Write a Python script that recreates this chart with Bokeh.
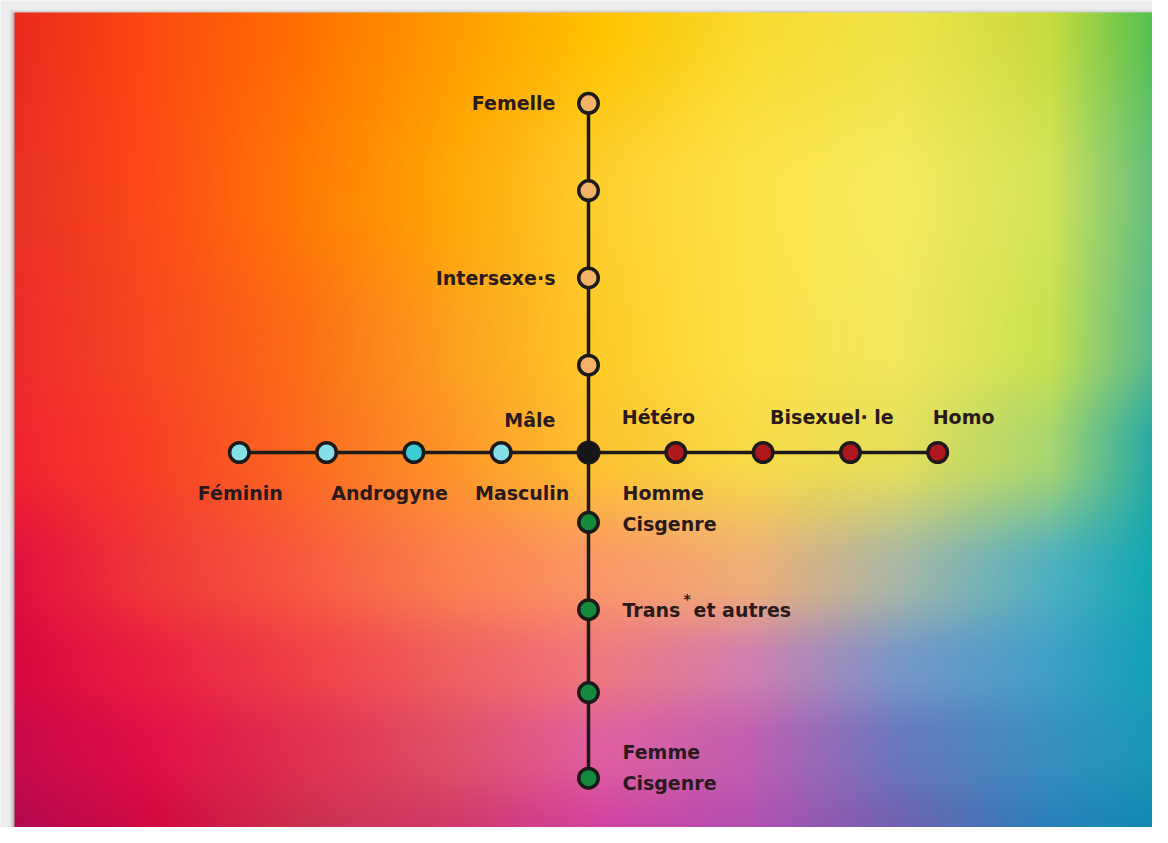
import numpy as np
from bokeh.plotting import figure
from bokeh.models import Range1d
from bokeh.core.properties import value
from bokeh.embed import file_html
from bokeh.resources import INLINE

# ---------------- data ----------------
# vertical axis, upwards (sexe)
sex_pos = [4, 3, 2, 1]
sex_labels = ["Femelle", "", "Intersexe·s", ""]
# horizontal axis, left (expression de genre)
expr_pos = [-4, -3, -2, -1]
expr_labels = ["Féminin", "Androgyne", "", "Masculin"]
# horizontal axis, right (orientation)
orient_pos = [1, 2, 3, 4]
orient_labels = ["Hétéro", "Bisexuel· le", "", "Homo"]
# vertical axis, downwards (identité de genre)
ident_pos = [-0.8, -1.8, -2.75, -3.73]
ident_labels = ["Homme\nCisgenre", "Trans* et autres", "", "Femme\nCisgenre"]
center_label = "Mâle"

# ---------------- style ----------------
U = 87.3                 # px per unit
CX, CY = 588, 452        # position of the centre node in the picture
W, H = 1152, 827
INK = "#2a1a1c"
LINE = "#1c1a1a"
FONT = value("DejaVu Sans")
FS = "19px"

def sx(px):
    return (px - CX) / U

def sy(py):
    return (CY - py) / U

p = figure(width=W, height=H, output_backend="svg", toolbar_location=None,
           x_range=Range1d(sx(0), sx(W)), y_range=Range1d(sy(H), sy(0)),
           min_border=0, outline_line_color=None,
           background_fill_color="#ededed", border_fill_color="#ededed")
p.axis.visible = False
p.grid.visible = False

# ---------------- background gradient ----------------
BG_X = np.array([14, 150, 300, 450, 600, 750, 900, 1050, 1156], dtype=float)
BG_Y = np.array([12, 195, 345, 450, 575, 665, 745, 843], dtype=float)
BG = [
    ["#e82a1e", "#fc4a10", "#ff7000", "#ff9c00", "#ffc400", "#f8dc30", "#f0e44a", "#c8dc40", "#50c050"],
    ["#e83025", "#fd4a18", "#ff7a05", "#ffa805", "#ffcf30", "#fde54a", "#f6eb60", "#d2e458", "#60be80"],
    ["#ea2c2c", "#f84820", "#fb6e15", "#fca020", "#ffcc28", "#fde448", "#f3e860", "#c8e250", "#55b890"],
    ["#f02530", "#f84025", "#fb6a20", "#fd9628", "#fec532", "#f8dc48", "#e6e05a", "#a8d670", "#20a8a8"],
    ["#e0103e", "#f03838", "#f75a40", "#fb8050", "#fb9868", "#f0b078", "#a8b8a8", "#50b0c0", "#10a8b0"],
    ["#d80840", "#e82040", "#f04048", "#f06060", "#f07880", "#d080b0", "#7898c8", "#40a0c8", "#10a0b8"],
    ["#c80848", "#e01048", "#e03050", "#e05068", "#e060a0", "#c060b0", "#6878c0", "#3890c0", "#1898b8"],
    ["#b00850", "#d00840", "#c83050", "#d03868", "#d040a0", "#b050b0", "#7060b0", "#2880b8", "#1088b0"],
]

def hex2rgb(h):
    h = h.lstrip("#")
    return [int(h[i:i + 2], 16) for i in (0, 2, 4)]

grid = np.array([[hex2rgb(c) for c in row] for row in BG], dtype=float)
x0, x1, y0, y1 = 14, W, 12, H
IW, IH = x1 - x0, y1 - y0
xs = np.arange(IW) + x0 + 0.5
ys = np.arange(IH) + y0 + 0.5
tmp = np.empty((len(BG_Y), IW, 3))
for i in range(len(BG_Y)):
    for c in range(3):
        tmp[i, :, c] = np.interp(xs, BG_X, grid[i, :, c])
idx = np.clip(np.searchsorted(BG_Y, ys) - 1, 0, len(BG_Y) - 2)
t = np.clip((ys - BG_Y[idx]) / (BG_Y[idx + 1] - BG_Y[idx]), 0, 1)
t = t * t * (3 - 2 * t)
img = tmp[idx] * (1 - t)[:, None, None] + tmp[idx + 1] * t[:, None, None]
rgba = np.empty((IH, IW), dtype=np.uint32)
view = rgba.view(dtype=np.uint8).reshape((IH, IW, 4))
view[:, :, :3] = np.clip(img, 0, 255).astype(np.uint8)
view[:, :, 3] = 255
rgba = rgba[::-1]

# soft shadow around the picture
for k, a in [(5, 0.04), (4, 0.06), (3, 0.08), (2, 0.12), (1, 0.18)]:
    p.rect(x=sx((x0 + x1) / 2), y=sy((y0 + y1) / 2 + 2), width=(IW + 2 * k) / U, height=(IH + 2 * k) / U,
           fill_color="#555555", fill_alpha=a, line_color=None)
p.image_rgba(image=[rgba], x=sx(x0), y=sy(y1), dw=IW / U, dh=IH / U)

# ---------------- lines ----------------
p.line(x=[0, 0], y=[max(sex_pos), min(ident_pos)], line_color=LINE, line_width=3.5)
p.line(x=[min(expr_pos), max(orient_pos)], y=[0, 0], line_color=LINE, line_width=3.5)

# ---------------- nodes ----------------
NODE = dict(size=19.5, line_color=LINE, line_width=3.5)
p.scatter(x=[0] * len(sex_pos), y=sex_pos, fill_color="#f4b266", **NODE)
p.scatter(x=expr_pos, y=[0] * len(expr_pos),
          fill_color=["#84dfe6", "#84dfe6", "#3ccbd4", "#84dfe6"], **NODE)
p.scatter(x=orient_pos, y=[0] * len(orient_pos), fill_color="#b0161e", **NODE)
p.scatter(x=[0] * len(ident_pos), y=ident_pos, fill_color="#138a3c", **NODE)
p.scatter(x=[0], y=[0], size=22, fill_color="#161616", line_color=LINE, line_width=2)

# ---------------- labels ----------------
def lab(x, y, text, dx, dy, align, size=FS):
    p.text(x=[x], y=[y], text=[text], x_offset=dx, y_offset=dy, text_align=align,
           text_baseline="middle", text_color=INK, text_font=FONT,
           text_font_style="bold", text_font_size=size)

# sexe (left of vertical axis)
for pos, s in zip(sex_pos, sex_labels):
    if s:
        lab(0, pos, s, -33, 0, "right")
lab(0, 0, center_label, -33, -33, "right")

# expression (below left axis)
expr_dx = [1, 63, 0, 21]
for pos, s, d in zip(expr_pos, expr_labels, expr_dx):
    if s:
        lab(pos, 0, s, d, 40, "center")

# orientation (above right axis)
orient_dx = [-54, 7, 0, -5]
for pos, s, d in zip(orient_pos, orient_labels, orient_dx):
    if s:
        lab(pos, 0, s, d, -36, "left")

# identité (right of lower axis)
for pos, s in zip(ident_pos, ident_labels):
    if not s:
        continue
    if "\n" in s:
        a, b = s.split("\n")
        dy0 = -29 if pos > -1.5 else -26
        lab(0, pos, a, 34, dy0, "left")
        lab(0, pos, b, 34, dy0 + 31, "left")
    elif "*" in s:
        a, b = s.split("*")
        lab(0, pos, a, 34, 0, "left")
        lab(0, pos, "*", 95, -11, "left", size="14px")
        lab(0, pos, b.strip(), 105, 0, "left")
    else:
        lab(0, pos, s, 34, 0, "left")

open("out.html", "w").write(file_html(p, INLINE))
